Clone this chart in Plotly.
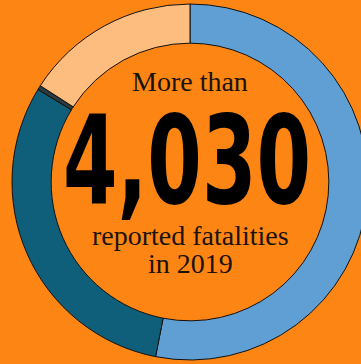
import plotly.graph_objects as go

# Data (shares read from the ring, clockwise from 12 o'clock)
categories = ["Group A", "Group B", "Group C", "Group D"]
shares = [53.1, 30.6, 0.4, 15.9]
colors = ["#5F9FD3", "#0F5F7B", "#2B3A3F", "#FDBD7F"]

headline_top = "More than"
headline_number = "4,030"
headline_line2 = "reported fatalities"
headline_line3 = "in 2019"

BG = "#FD8514"
W, H = 380, 364
cx, cy, R = 190, 182, 178

fig = go.Figure(go.Pie(
    labels=categories,
    values=shares,
    hole=0.78,
    sort=False,
    direction="clockwise",
    rotation=0,
    marker=dict(colors=colors, line=dict(color="#111111", width=1)),
    textinfo="none",
    hoverinfo="skip",
    showlegend=False,
    domain=dict(x=[(cx - R) / W, (cx + R) / W], y=[(H - cy - R) / H, min(1, (H - cy + R) / H)]),
))

def py(y):
    return 1 - y / H

serif = dict(family="Liberation Serif", size=28, color="#1a1208")
fig.add_annotation(x=cx / W, y=py(81), xref="paper", yref="paper", text=headline_top,
                   showarrow=False, font=serif, xanchor="center", yanchor="middle")
fig.add_annotation(x=187 / W, y=py(160), xref="paper", yref="paper", text="<b>" + headline_number + "</b>",
                   showarrow=False, font=dict(family="DejaVu Sans Condensed", size=123, color="#000000"),
                   xanchor="center", yanchor="middle")
fig.add_annotation(x=cx / W, y=py(235), xref="paper", yref="paper", text=headline_line2,
                   showarrow=False, font=serif, xanchor="center", yanchor="middle")
fig.add_annotation(x=cx / W, y=py(263), xref="paper", yref="paper", text=headline_line3,
                   showarrow=False, font=serif, xanchor="center", yanchor="middle")

fig.update_layout(
    width=W, height=H,
    margin=dict(l=0, r=0, t=0, b=0),
    paper_bgcolor=BG, plot_bgcolor=BG,
)

post = (
    "document.body.style.margin='0';document.body.style.overflow='hidden';"
    "document.body.style.background='" + BG + "';"
    "var t=document.querySelectorAll('.annotation-text')[1];"
    "if(t){t.setAttribute('textLength','248');t.setAttribute('lengthAdjust','spacingAndGlyphs');}"
)
fig.write_html("out.html", config=dict(displayModeBar=False), post_script=post)
